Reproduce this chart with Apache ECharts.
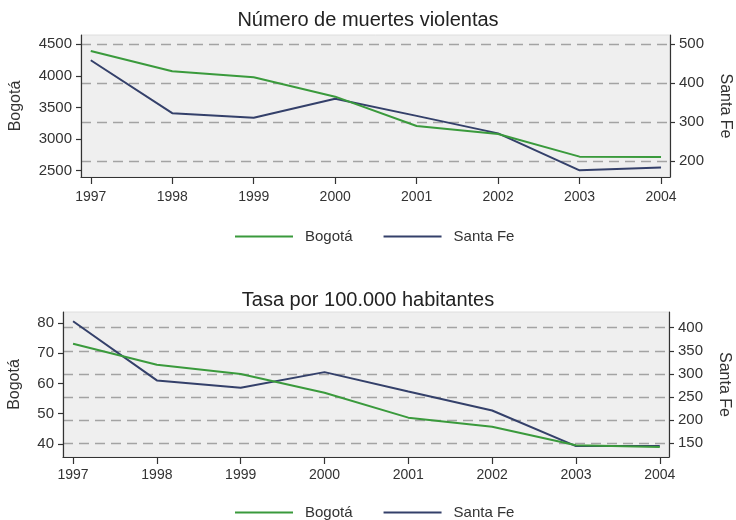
<!DOCTYPE html>
<html>
<head>
<meta charset="utf-8">
<script src="https://cdn.jsdelivr.net/npm/echarts@6/dist/echarts.min.js"></script>
<style>
  html, body { margin: 0; padding: 0; background: #fff; }
  #chart { width: 736px; height: 520px; }
</style>
</head>
<body>
<div id="chart"></div>
<script>
// Violent deaths and rate per 100,000 inhabitants, Bogotá vs. Santa Fe, 1997–2004
const years = [1997, 1998, 1999, 2000, 2001, 2002, 2003, 2004];

const deathsBogota  = [4395, 4073, 3978, 3671, 3207, 3081, 2722, 2718];
const deathsSantaFe = [459, 323, 311, 360, 316, 271, 176, 183];

const rateBogota  = [73.1, 66.2, 63.1, 56.9, 48.7, 45.7, 39.6, 39.0];
const rateSantaFe = [414, 286, 270, 304, 262, 221, 144, 144];

const deathsLeftTicks  = [2500, 3000, 3500, 4000, 4500];
const deathsRightTicks = [200, 300, 400, 500];
const rateLeftTicks    = [40, 50, 60, 70, 80];
const rateRightTicks   = [150, 200, 250, 300, 350, 400];

const titles = ['Número de muertes violentas', 'Tasa por 100.000 habitantes'];
const seriesNames = ['Bogotá', 'Santa Fe'];

const GREEN = '#3a9a3c';
const NAVY = '#34406a';
const INK = '#333333';
const FONT = 'Liberation Sans, Arial, sans-serif';

const pairs = (vals) => years.map((y, i) => [y, vals[i]]);
const plain = (v) => String(v);

function xAxis(gridIndex, margin) {
  return {
    type: 'value', gridIndex, min: 1996.88, max: 2004.11,
    axisLine: { show: true, lineStyle: { color: INK, width: 1.2 } },
    axisTick: { show: true, length: 7, customValues: years, lineStyle: { color: INK, width: 1.2 } },
    axisLabel: { customValues: years, formatter: plain, color: INK, fontSize: 14, fontFamily: FONT, margin },
    splitLine: { show: false }
  };
}

function yAxis(gridIndex, position, min, max, ticks, name, nameGap, grid) {
  return {
    type: 'value', gridIndex, position, min, max,
    name, nameLocation: 'middle', nameGap,
    nameRotate: position === 'right' ? -90 : 90,
    nameTextStyle: { color: INK, fontSize: 16, fontFamily: FONT },
    axisLine: { show: true, lineStyle: { color: INK, width: 1.2 } },
    axisTick: { show: true, length: 5, customValues: ticks, lineStyle: { color: INK, width: 1.2 } },
    axisLabel: { customValues: ticks, formatter: plain, color: INK, fontSize: 15, fontFamily: FONT, margin: 9 },
    splitLine: grid ? {
      show: true, customValues: ticks,
      lineStyle: { color: '#a3a3a3', width: 1.3, type: [10, 6] }
    } : { show: false }
  };
}

function line(name, data, xi, yi, color) {
  return {
    type: 'line', name, data, xAxisIndex: xi, yAxisIndex: yi,
    symbol: 'none', lineStyle: { color, width: 2 }, itemStyle: { color },
    z: name === 'Bogotá' ? 3 : 2, animation: false
  };
}

const legendBase = {
  data: seriesNames, icon: 'rect', itemWidth: 58, itemHeight: 2,
  itemGap: 31, selectedMode: false,
  textStyle: { color: INK, fontSize: 15, fontFamily: FONT, padding: [0, 0, 0, 7] }
};

const gridBase = {
  show: true, backgroundColor: '#efefef', borderColor: '#dedede', borderWidth: 1,
  containLabel: false, outerBoundsMode: 'none'
};

const chart = echarts.init(document.getElementById('chart'), null, { renderer: 'canvas' });
chart.setOption({
  backgroundColor: '#ffffff',
  animation: false,
  title: [
    { text: titles[0], left: 'center', top: 5, textStyle: { color: '#222', fontSize: 20, fontWeight: 'normal', fontFamily: FONT } },
    { text: titles[1], left: 'center', top: 285, textStyle: { color: '#222', fontSize: 20, fontWeight: 'normal', fontFamily: FONT } }
  ],
  legend: [
    Object.assign({}, legendBase, { left: 230, top: 224 }),
    Object.assign({}, legendBase, { left: 230, top: 500 })
  ],
  grid: [
    Object.assign({}, gridBase, { left: 81, right: 66, top: 35, height: 142 }),
    Object.assign({}, gridBase, { left: 63, right: 67, top: 312, height: 145 })
  ],
  xAxis: [xAxis(0, 13), xAxis(1, 11)],
  yAxis: [
    yAxis(0, 'left', 2400, 4647, deathsLeftTicks, 'Bogotá', 57, false),
    yAxis(0, 'right', 158.8, 523.9, deathsRightTicks, 'Santa Fe', 47, true),
    yAxis(1, 'left', 35.7, 83.6, rateLeftTicks, 'Bogotá', 40, false),
    yAxis(1, 'right', 120.4, 434, rateRightTicks, 'Santa Fe', 47, true)
  ],
  series: [
    line(seriesNames[1], pairs(deathsSantaFe), 0, 1, NAVY),
    line(seriesNames[0], pairs(deathsBogota), 0, 0, GREEN),
    line(seriesNames[1], pairs(rateSantaFe), 1, 3, NAVY),
    line(seriesNames[0], pairs(rateBogota), 1, 2, GREEN)
  ]
});
</script>
</body>
</html>
